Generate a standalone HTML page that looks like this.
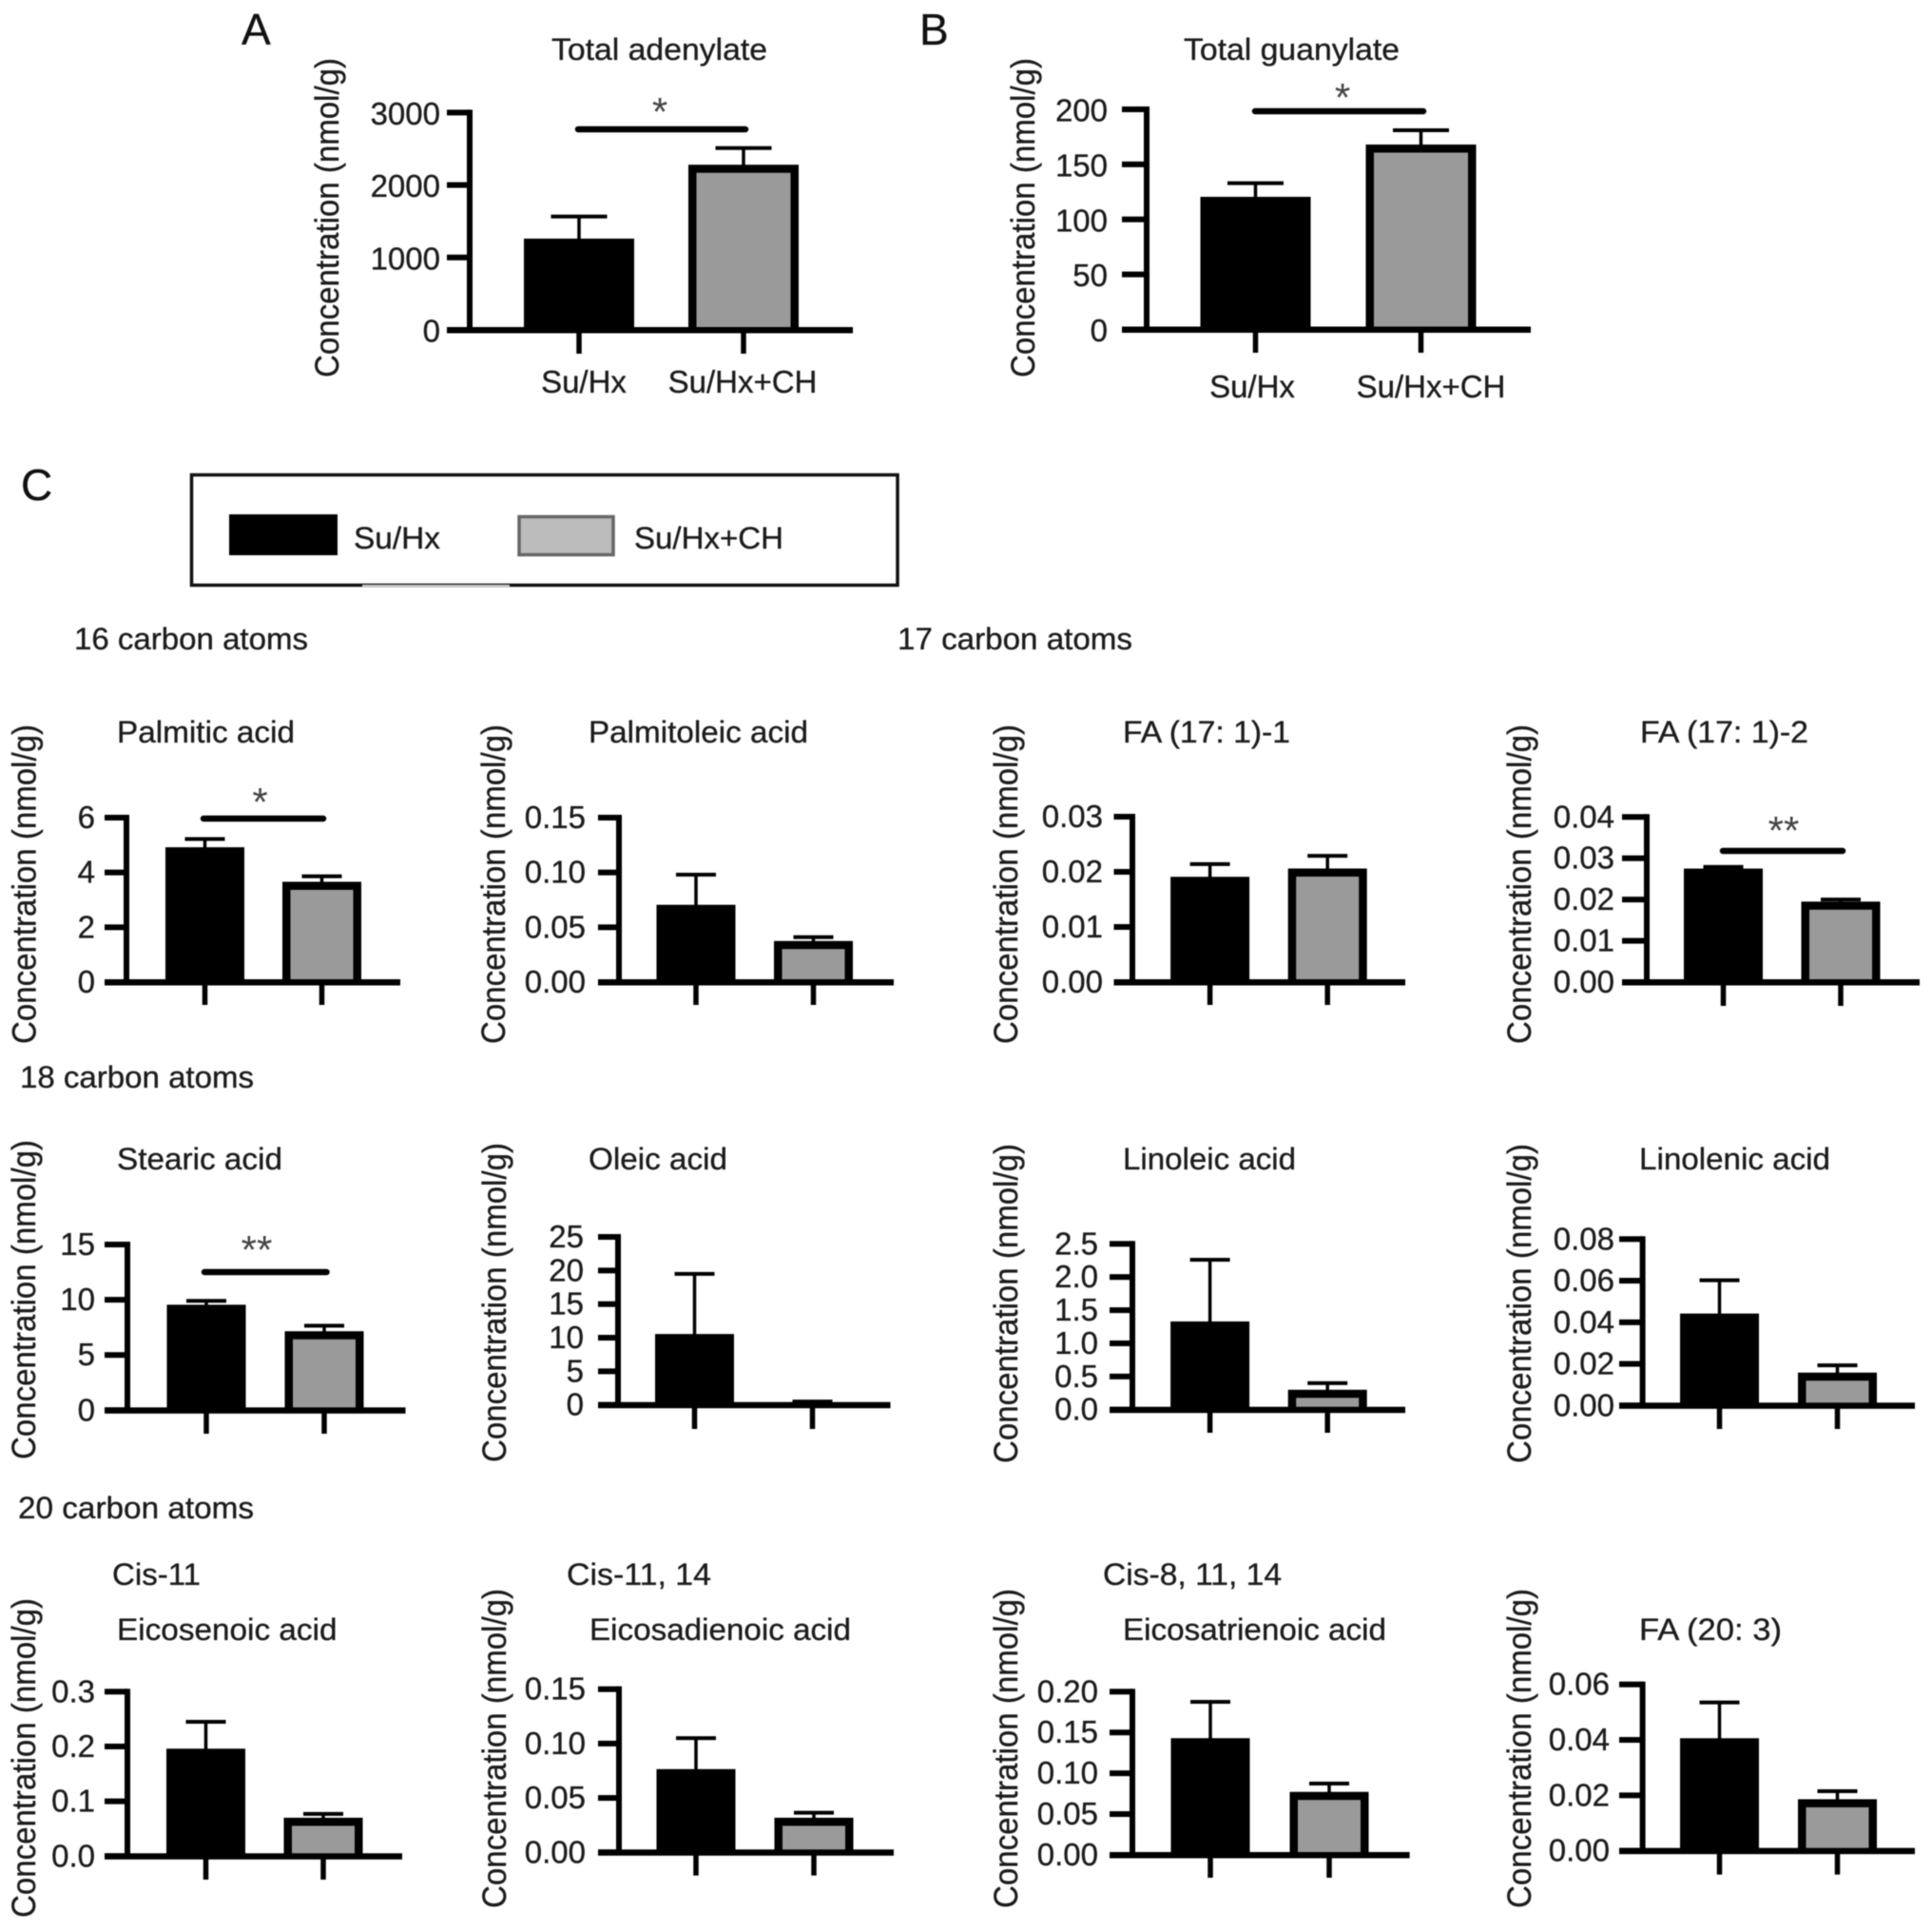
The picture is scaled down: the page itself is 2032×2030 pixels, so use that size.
<!DOCTYPE html>
<html lang="en">
<head>
<meta charset="utf-8">
<title>Concentration of adenylate, guanylate and fatty acids</title>
<style>
html,body{margin:0;padding:0;background:#fff;}
body{width:2032px;height:2030px;overflow:hidden;}
svg{display:block;position:absolute;left:0;top:0;filter:blur(.6px);}
text{font-family:"Liberation Sans",Arial,sans-serif;font-size:32px;fill:#1c1c1c;stroke:#1c1c1c;stroke-width:.35px;}
.yt{font-size:35px;text-anchor:middle;}
.letter{font-size:46px;fill:#111;}
</style>
</head>
<body>
<svg id="figure" xmlns="http://www.w3.org/2000/svg" width="2032" height="2030" viewBox="0 0 2032 2030">
  <text class="letter" x="254" y="47">A</text>
  <text class="letter" x="967" y="47">B</text>
  <text class="letter" x="22" y="526">C</text>

  <g>
    <rect x="201.5" y="499.5" width="742.5" height="116" fill="none" stroke="#111" stroke-width="3.5"/>
    <rect x="381" y="615" width="155" height="2" fill="#fff" opacity="0.8"/>
    <rect x="241" y="541" width="114" height="43" fill="#000"/>
    <text x="372" y="577" textLength="91" lengthAdjust="spacingAndGlyphs">Su/Hx</text>
    <rect x="546" y="543.5" width="99" height="40" fill="#bcbcbc" stroke="#666" stroke-width="3.5"/>
    <text x="667" y="577" textLength="157" lengthAdjust="spacingAndGlyphs">Su/Hx+CH</text>
  </g>

  <text x="78" y="683" textLength="246" lengthAdjust="spacingAndGlyphs">16 carbon atoms</text>
  <text x="944" y="683" textLength="247" lengthAdjust="spacingAndGlyphs">17 carbon atoms</text>
  <text x="21" y="1144" textLength="246" lengthAdjust="spacingAndGlyphs">18 carbon atoms</text>
  <text x="19" y="1597" textLength="248" lengthAdjust="spacingAndGlyphs">20 carbon atoms</text>

  <g id="p-adenylate">
    <text x="580" y="63" textLength="227" lengthAdjust="spacingAndGlyphs">Total adenylate</text>
    <text class="yt" transform="translate(356,229) rotate(-90)" textLength="336" lengthAdjust="spacingAndGlyphs">Concentration (nmol/g)</text>
  </g>
  <g id="p-guanylate">
    <text x="1245" y="63" textLength="227" lengthAdjust="spacingAndGlyphs">Total guanylate</text>
    <text class="yt" transform="translate(1088,229) rotate(-90)" textLength="336" lengthAdjust="spacingAndGlyphs">Concentration (nmol/g)</text>
  </g>

  <g id="p-palmitic">
    <text x="123" y="781" textLength="187" lengthAdjust="spacingAndGlyphs">Palmitic acid</text>
    <text class="yt" transform="translate(37.6,930) rotate(-90)" textLength="336" lengthAdjust="spacingAndGlyphs">Concentration (nmol/g)</text>
  </g>
  <g id="p-palmitoleic">
    <text x="619" y="781" textLength="231" lengthAdjust="spacingAndGlyphs">Palmitoleic acid</text>
    <text class="yt" transform="translate(531,930) rotate(-90)" textLength="336" lengthAdjust="spacingAndGlyphs">Concentration (nmol/g)</text>
  </g>
  <g id="p-fa171a">
    <text x="1181" y="781" textLength="176" lengthAdjust="spacingAndGlyphs">FA (17: 1)-1</text>
    <text class="yt" transform="translate(1070,930) rotate(-90)" textLength="336" lengthAdjust="spacingAndGlyphs">Concentration (nmol/g)</text>
  </g>
  <g id="p-fa171b">
    <text x="1725" y="781" textLength="177" lengthAdjust="spacingAndGlyphs">FA (17: 1)-2</text>
    <text class="yt" transform="translate(1610,930) rotate(-90)" textLength="336" lengthAdjust="spacingAndGlyphs">Concentration (nmol/g)</text>
  </g>

  <g id="p-stearic">
    <text x="123" y="1230" textLength="174" lengthAdjust="spacingAndGlyphs">Stearic acid</text>
    <text class="yt" transform="translate(37,1367) rotate(-90)" textLength="336" lengthAdjust="spacingAndGlyphs">Concentration (nmol/g)</text>
  </g>
  <g id="p-oleic">
    <text x="619" y="1230" textLength="146" lengthAdjust="spacingAndGlyphs">Oleic acid</text>
    <text class="yt" transform="translate(532,1370) rotate(-90)" textLength="336" lengthAdjust="spacingAndGlyphs">Concentration (nmol/g)</text>
  </g>
  <g id="p-linoleic">
    <text x="1181" y="1230" textLength="182" lengthAdjust="spacingAndGlyphs">Linoleic acid</text>
    <text class="yt" transform="translate(1070,1371) rotate(-90)" textLength="336" lengthAdjust="spacingAndGlyphs">Concentration (nmol/g)</text>
  </g>
  <g id="p-linolenic">
    <text x="1724" y="1230" textLength="201" lengthAdjust="spacingAndGlyphs">Linolenic acid</text>
    <text class="yt" transform="translate(1610,1371) rotate(-90)" textLength="336" lengthAdjust="spacingAndGlyphs">Concentration (nmol/g)</text>
  </g>

  <g id="p-eicosenoic">
    <text x="118" y="1667" textLength="93" lengthAdjust="spacingAndGlyphs">Cis-11</text>
    <text x="123" y="1725" textLength="231.5" lengthAdjust="spacingAndGlyphs">Eicosenoic acid</text>
    <text class="yt" transform="translate(37,1849) rotate(-90)" textLength="336" lengthAdjust="spacingAndGlyphs">Concentration (nmol/g)</text>
  </g>
  <g id="p-eicosadienoic">
    <text x="596" y="1667" textLength="152" lengthAdjust="spacingAndGlyphs">Cis-11, 14</text>
    <text x="620" y="1725" textLength="275" lengthAdjust="spacingAndGlyphs">Eicosadienoic acid</text>
    <text class="yt" transform="translate(532,1839) rotate(-90)" textLength="336" lengthAdjust="spacingAndGlyphs">Concentration (nmol/g)</text>
  </g>
  <g id="p-eicosatrienoic">
    <text x="1160" y="1667" textLength="188" lengthAdjust="spacingAndGlyphs">Cis-8, 11, 14</text>
    <text x="1181" y="1725" textLength="277" lengthAdjust="spacingAndGlyphs">Eicosatrienoic acid</text>
    <text class="yt" transform="translate(1070,1839) rotate(-90)" textLength="336" lengthAdjust="spacingAndGlyphs">Concentration (nmol/g)</text>
  </g>
  <g id="p-fa203">
    <text x="1724" y="1725" textLength="150" lengthAdjust="spacingAndGlyphs">FA (20: 3)</text>
    <text class="yt" transform="translate(1610,1839) rotate(-90)" textLength="336" lengthAdjust="spacingAndGlyphs">Concentration (nmol/g)</text>
  </g>
</svg>

<script>
// ---- Data ----
const categories = ["Su/Hx", "Su/Hx+CH"];

const adenylateMeans = [1260, 2280];
const adenylateErrors = [305, 230];
const adenylateTicks = ["0", "1000", "2000", "3000"];

const guanylateMeans = [120.5, 168];
const guanylateErrors = [12.4, 13];
const guanylateTicks = ["0", "50", "100", "150", "200"];

const palmiticMeans = [4.92, 3.66];
const palmiticErrors = [0.3, 0.2];
const palmiticTicks = ["0", "2", "4", "6"];

const palmitoleicMeans = [0.0705, 0.0375];
const palmitoleicErrors = [0.0275, 0.0035];
const palmitoleicTicks = ["0.00", "0.05", "0.10", "0.15"];

const fa171aMeans = [0.0191, 0.0206];
const fa171aErrors = [0.0023, 0.0023];
const fa171aTicks = ["0.00", "0.01", "0.02", "0.03"];

const fa171bMeans = [0.0275, 0.0195];
const fa171bErrors = [0.0004, 0.0005];
const fa171bTicks = ["0.00", "0.01", "0.02", "0.03", "0.04"];

const stearicMeans = [9.55, 7.15];
const stearicErrors = [0.35, 0.5];
const stearicTicks = ["0", "5", "10", "15"];

const oleicMeans = [10.55, 0.2];
const oleicErrors = [8.95, 0.3];
const oleicTicks = ["0", "5", "10", "15", "20", "25"];

const linoleicMeans = [1.33, 0.3];
const linoleicErrors = [0.93, 0.1];
const linoleicTicks = ["0.0", "0.5", "1.0", "1.5", "2.0", "2.5"];

const linolenicMeans = [0.0442, 0.0158];
const linolenicErrors = [0.016, 0.0035];
const linolenicTicks = ["0.00", "0.02", "0.04", "0.06", "0.08"];

const eicosenoicMeans = [0.196, 0.07];
const eicosenoicErrors = [0.049, 0.007];
const eicosenoicTicks = ["0.0", "0.1", "0.2", "0.3"];

const eicosadienoicMeans = [0.0765, 0.0318];
const eicosadienoicErrors = [0.0285, 0.0046];
const eicosadienoicTicks = ["0.00", "0.05", "0.10", "0.15"];

const eicosatrienoicMeans = [0.143, 0.0772];
const eicosatrienoicErrors = [0.0445, 0.0102];
const eicosatrienoicTicks = ["0.00", "0.05", "0.10", "0.15", "0.20"];

const fa203Means = [0.0406, 0.0186];
const fa203Errors = [0.0129, 0.0029];
const fa203Ticks = ["0.00", "0.02", "0.04", "0.06"];

// ---- Panel layout (geometry only; values come from the arrays above) ----
const panels = [
  {id:"p-adenylate", means:adenylateMeans, errors:adenylateErrors, ticks:adenylateTicks, axisX:494, tickLeft:470, labelRight:463, labelShift:1.5, top:118.4, base:347, end:897, x0:609, step:173, barW:116, capW:59, tickBottom:372, catX:[614,781], catY:413, sig:{a:608,b:784,y:136,text:"*",sx:694,sy:108}},
  {id:"p-guanylate", means:guanylateMeans, errors:guanylateErrors, ticks:guanylateTicks, axisX:1206, tickLeft:1180, labelRight:1165, labelShift:1.5, top:115, base:346.5, end:1610, x0:1320.5, step:174, barW:116, capW:59, tickBottom:371, catX:[1317,1505], catY:418, sig:{a:1320,b:1497,y:117,text:"*",sx:1412,sy:93}},
  {id:"p-palmitic", means:palmiticMeans, errors:palmiticErrors, ticks:palmiticTicks, axisX:133, tickLeft:110, labelRight:100, labelShift:0, top:860, base:1033, end:421, x0:215.5, step:123, barW:83, capW:42, tickBottom:1057, sig:{a:214,b:340,y:861,text:"*",sx:273.5,sy:834}},
  {id:"p-palmitoleic", means:palmitoleicMeans, errors:palmitoleicErrors, ticks:palmitoleicTicks, axisX:651, tickLeft:629, labelRight:616, labelShift:0, top:860, base:1033, end:940, x0:732, step:123.5, barW:83, capW:42, tickBottom:1057},
  {id:"p-fa171a", means:fa171aMeans, errors:fa171aErrors, ticks:fa171aTicks, axisX:1191, tickLeft:1171.5, labelRight:1160, labelShift:0, top:859, base:1033, end:1478, x0:1272.6, step:123.6, barW:83, capW:42, tickBottom:1057},
  {id:"p-fa171b", means:fa171bMeans, errors:fa171bErrors, ticks:fa171bTicks, axisX:1732, tickLeft:1706, labelRight:1698, labelShift:0, top:859.3, base:1033, end:2019, x0:1812.5, step:123.5, barW:83, capW:42, tickBottom:1058, sig:{a:1812,b:1938,y:895,text:"**",sx:1876,sy:864}},
  {id:"p-stearic", means:stearicMeans, errors:stearicErrors, ticks:stearicTicks, axisX:134, tickLeft:110, labelRight:100, labelShift:0, top:1309, base:1483.3, end:426.5, x0:217, step:124, barW:83, capW:42, tickBottom:1508, sig:{a:215,b:343.5,y:1338,text:"**",sx:270,sy:1305}},
  {id:"p-oleic", means:oleicMeans, errors:oleicErrors, ticks:oleicTicks, axisX:650, tickLeft:629, labelRight:614, labelShift:0, top:1301, base:1477.7, end:936.5, x0:730.5, step:124, barW:83, capW:42, tickBottom:1503},
  {id:"p-linoleic", means:linoleicMeans, errors:linoleicErrors, ticks:linoleicTicks, axisX:1191, tickLeft:1167, labelRight:1155, labelShift:0, top:1308.3, base:1482.7, end:1478, x0:1272.6, step:123.6, barW:83, capW:42, tickBottom:1507},
  {id:"p-linolenic", means:linolenicMeans, errors:linolenicErrors, ticks:linolenicTicks, axisX:1727.6, tickLeft:1703, labelRight:1698, labelShift:0, top:1303.3, base:1478.3, end:2014, x0:1808.5, step:124, barW:83, capW:42, tickBottom:1503},
  {id:"p-eicosenoic", means:eicosenoicMeans, errors:eicosenoicErrors, ticks:eicosenoicTicks, axisX:134, tickLeft:110, labelRight:100, labelShift:0, top:1779.3, base:1952.3, end:423, x0:216.5, step:123.5, barW:83, capW:42, tickBottom:1977},
  {id:"p-eicosadienoic", means:eicosadienoicMeans, errors:eicosadienoicErrors, ticks:eicosadienoicTicks, axisX:651, tickLeft:629, labelRight:616, labelShift:0, top:1776.7, base:1948.3, end:940, x0:732, step:124, barW:83, capW:42, tickBottom:1972.7},
  {id:"p-eicosatrienoic", means:eicosatrienoicMeans, errors:eicosatrienoicErrors, ticks:eicosatrienoicTicks, axisX:1191, tickLeft:1167, labelRight:1155, labelShift:0, top:1779.3, base:1951, end:1482.6, x0:1273, step:125, barW:83, capW:42, tickBottom:1975},
  {id:"p-fa203", means:fa203Means, errors:fa203Errors, ticks:fa203Ticks, axisX:1727.6, tickLeft:1703, labelRight:1693, labelShift:0, top:1771.7, base:1946.7, end:2014, x0:1808.5, step:124, barW:83, capW:42, tickBottom:1971.7}
];

const SVGNS = "http://www.w3.org/2000/svg";

function addRect(parent, x, y, w, h, fill, name) {
  const el = document.createElementNS(SVGNS, "rect");
  el.setAttribute("x", x);
  el.setAttribute("y", y);
  el.setAttribute("width", Math.max(0, w));
  el.setAttribute("height", Math.max(0, h));
  el.setAttribute("fill", fill);
  
  
  parent.appendChild(el);
  return el;
}

function addText(parent, x, y, str, anchor, name) {
  const el = document.createElementNS(SVGNS, "text");
  el.setAttribute("x", x);
  el.setAttribute("y", y);
  el.setAttribute("text-anchor", anchor);
  el.textContent = str;
  
  
  parent.appendChild(el);
  return el;
}

function drawPanel(p) {
  const g = document.getElementById(p.id);
  const yMax = parseFloat(p.ticks[p.ticks.length - 1]);
  const yScale = v => p.base - (v / yMax) * (p.base - p.top);
  const xScale = i => p.x0 + i * p.step;

  // bars and error bars
  p.means.forEach((m, i) => {
    const cx = xScale(i);
    const yTop = yScale(m);
    const yErr = yScale(m + p.errors[i]);
    addRect(g, cx - 1.75, yErr, 3.5, yTop - yErr + 2, "#000", "error-stem-" + i);
    addRect(g, cx - p.capW / 2, yErr - 2, p.capW, 4, "#000", "error-cap-" + i);
    addRect(g, cx - p.barW / 2, yTop, p.barW, p.base - yTop, "#000", i === 0 ? "bar-su-hx" : "bar-su-hx-ch");
    if (i === 1) {
      addRect(g, cx - p.barW / 2 + 8.5, yTop + 8.5, p.barW - 17, p.base - yTop - 8.5, "#9a9a9a", "bar-su-hx-ch-fill");
    }
  });

  // y axis
  addRect(g, p.axisX - 3, p.top - 3, 6, p.base - p.top + 3, "#000", "y-axis-line");
  p.ticks.forEach(t => {
    const y = yScale(parseFloat(t));
    addRect(g, p.tickLeft, y - 3, p.axisX - p.tickLeft, 6, "#000", "y-tick");
    const label = addText(g, p.labelRight, y + 11 + p.labelShift, t, "end", "y-tick-label");
    label.style.fontSize = "33px";
  });

  // x axis
  addRect(g, p.tickLeft, p.base - 3, p.end - p.tickLeft, 6.5, "#000", "x-axis-line");
  categories.forEach((c, i) => {
    addRect(g, xScale(i) - 2.75, p.base, 5.5, p.tickBottom - p.base, "#000", "x-tick");
    if (p.catX) {
      const label = addText(g, p.catX[i], p.catY, c, "middle", "x-tick-label");
      label.style.fontSize = "33px";
    }
  });

  // significance marker
  if (p.sig) {
    const line = document.createElementNS(SVGNS, "line");
    line.setAttribute("x1", p.sig.a);
    line.setAttribute("x2", p.sig.b);
    line.setAttribute("y1", p.sig.y);
    line.setAttribute("y2", p.sig.y);
    line.setAttribute("stroke", "#000");
    line.setAttribute("stroke-width", "6.5");
    line.setAttribute("stroke-linecap", "round");
    
    
    g.appendChild(line);
    const star = addText(g, p.sig.sx, p.sig.sy + 24, p.sig.text, "middle", "significance-star");
    star.style.fontSize = "42px";
    star.style.fill = "#444";
    star.style.stroke = "none";
  }
}

panels.forEach(drawPanel);
</script>
</body>
</html>
